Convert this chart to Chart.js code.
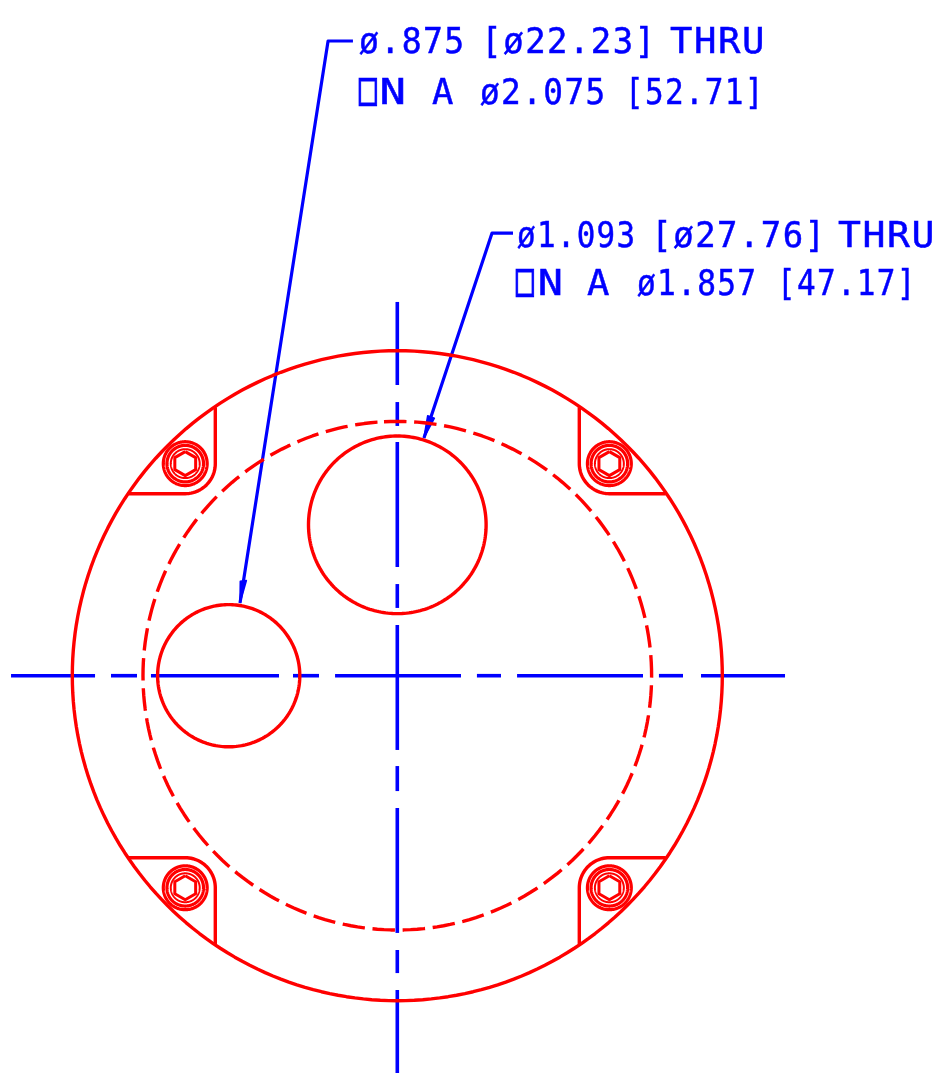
<!DOCTYPE html>
<html>
<head>
<meta charset="utf-8">
<style>
html,body{margin:0;padding:0;background:#fff;}
canvas{display:block;filter:blur(0.55px);}
</style>
<script src="https://cdn.jsdelivr.net/npm/chart.js@4"></script>
</head>
<body>
<canvas id="c" width="940" height="1076"></canvas>
<script>
// Drawing values, in inches from the centre of the part.
const outerDiameter = 4.0;
const boltCircleDiameter = 3.13;
const largeHole = [0, 0.9285, 1.093];      // x, y, diameter
const smallHole = [-1.0375, 0, 0.875];     // x, y, diameter
const boltCentres = [[-1.305, 1.305], [1.305, 1.305], [-1.305, -1.305], [1.305, -1.305]];
const boltRingDiameters = [0.27, 0.225, 0.178];
const hexDiameter = 0.148;
const notchRadius = 0.185;
const notchEnd = [1.12, 1.652];
// Centre-line dashes as start/end pairs
const horizontalDashes = [[-2.377,-1.860],[-1.762,-1.602],[-1.516,-0.728],[-0.642,-0.482],[-0.383,0.392],[0.490,0.638],[0.737,1.512],[1.610,1.758],[1.869,2.386]];
const verticalDashes = [[2.300,1.789],[1.684,1.537],[1.438,0.669],[0.564,0.417],[0.312,-0.457],[-0.556,-0.710],[-0.814,-1.583],[-1.688,-1.830],[-1.934,-2.445]];
// Leaders
const leaderSmall = [[-0.273,3.906],[-0.426,3.906],[-0.968,0.447]];
const arrowSmall = [[-0.968,0.447],[-0.966,0.581],[-0.929,0.585]];
const leaderLarge = [[0.712,2.724],[0.583,2.724],[0.164,1.463]];
const arrowLarge = [[0.164,1.463],[0.187,1.599],[0.228,1.585]];
// Note text
const noteSmallLine1 = ["ø.875", "[ø22.23]", "THRU"];
const noteSmallLine2 = ["□", "N", "A", "ø2.075", "[52.71]"];
const noteLargeLine1 = ["ø1.093", "[ø27.76]", "THRU"];
const noteLargeLine2 = ["□", "N", "A", "ø1.857", "[47.17]"];

const RED = "#ff0000", BLUE = "#0000ff";
const pxPerInch = 162.5, originX = 397.3, originY = 675.7, W = 940, H = 1076;

function traceCircle(cx, cy, d, startDeg) {
  const pts = [], n = 240, s = (startDeg || 0) * Math.PI / 180;
  for (let i = 0; i <= n; i++) {
    const a = s + i / n * 2 * Math.PI;           // clockwise from the top
    pts.push({x: cx + d / 2 * Math.sin(a), y: cy + d / 2 * Math.cos(a)});
  }
  return pts;
}
const toPts = a => a.map(p => ({x: p[0], y: p[1]}));
const ds = [];
function line(data, color, width, extra) {
  ds.push(Object.assign({data, borderColor: color, backgroundColor: color, borderWidth: width,
    showLine: true, pointRadius: 0, tension: 0, fill: false,
    borderDash: [100000, 1], borderJoinStyle: "round"}, extra || {}));
}
// Red outlines
line(traceCircle(0, 0, outerDiameter), RED, 3.4);
line(traceCircle(0, 0, boltCircleDiameter, -3), RED, 3.4, {borderDash: [22.5, 7.67]});
line(traceCircle(largeHole[0], largeHole[1], largeHole[2]), RED, 3.4);
line(traceCircle(smallHole[0], smallHole[1], smallHole[2]), RED, 3.4);
boltCentres.forEach(b => {
  boltRingDiameters.forEach((d, i) => line(traceCircle(b[0], b[1], d), RED, i === 2 ? 2 : 3.2));
  const hex = [];
  for (let i = 0; i <= 6; i++) {
    const a = i * Math.PI / 3;
    hex.push({x: b[0] + hexDiameter / 2 * Math.sin(a), y: b[1] + hexDiameter / 2 * Math.cos(a)});
  }
  line(hex, RED, 3);
  // notch: from the rim along to the quarter arc round the bolt, then back to the rim
  const sx = Math.sign(b[0]), sy = Math.sign(b[1]);
  const notch = [{x: sx * notchEnd[0], y: sy * notchEnd[1]}];
  for (let i = 0; i <= 24; i++) {
    const a = i / 24 * Math.PI / 2;
    notch.push({x: b[0] - sx * notchRadius * Math.cos(a), y: b[1] - sy * notchRadius * Math.sin(a)});
  }
  notch.push({x: sx * notchEnd[1], y: sy * notchEnd[0]});
  line(notch, RED, 3.4);
});
// Blue centre lines
horizontalDashes.forEach(d => line([{x: d[0], y: 0}, {x: d[1], y: 0}], BLUE, 3.6));
verticalDashes.forEach(d => line([{x: 0, y: d[0]}, {x: 0, y: d[1]}], BLUE, 3.6));
// Leaders and arrow heads
line(toPts(leaderSmall), BLUE, 3.2);
line(toPts(leaderLarge), BLUE, 3.2);
line(toPts(arrowSmall.concat([arrowSmall[0]])), BLUE, 1.6, {fill: "shape"});
line(toPts(arrowLarge.concat([arrowLarge[0]])), BLUE, 1.6, {fill: "shape"});

// Layout of the note text in canvas pixels: left, right of each run, and the baseline
const noteLayout = [
  {runs: noteSmallLine1, base: 53,  span: [[359,462],[489,648],[670,762]]},
  {runs: noteSmallLine2, base: 104, span: [[359,377],[382,403],[432,453],[480,603],[632,757]]},
  {runs: noteLargeLine1, base: 247, span: [[517,633],[659,818],[838,932]]},
  {runs: noteLargeLine2, base: 295, span: [[516,534],[540,560],[587,609],[637,754],[784,909]]}
];
const stretchX = 1.12, minGap = 1.5;
const notesPlugin = {
  id: "notes",
  afterDatasetsDraw(chart) {
    const ctx = chart.ctx;
    ctx.save();
    ctx.fillStyle = BLUE;
    ctx.strokeStyle = BLUE;
    ctx.textBaseline = "alphabetic";
    ctx.textAlign = "left";
    noteLayout.forEach(l => l.runs.forEach((t, i) => {
      const [a, b] = l.span[i];
      const box = t === "□";
      ctx.save();
      ctx.font = (box ? "46px" : "35.5px") + ' "DejaVu Sans Mono"';
      ctx.lineWidth = box ? 1.3 : 0.5;
      ctx.letterSpacing = "0px";
      const m = ctx.measureText(t);
      const ink = m.actualBoundingBoxLeft + m.actualBoundingBoxRight;
      let sx = stretchX, sp = 0;
      if (t.length > 1) {
        sx = Math.min(stretchX, (b - a) / (ink + minGap * (t.length - 1)));
        sp = ((b - a) / sx - ink) / (t.length - 1);
      } else {
        sx = (b - a) / ink;
      }
      ctx.translate(a, l.base);
      ctx.scale(sx, 1);
      ctx.letterSpacing = sp.toFixed(2) + "px";
      ctx.fillText(t, m.actualBoundingBoxLeft, 0);
      ctx.strokeText(t, m.actualBoundingBoxLeft, 0);
      ctx.restore();
    }));
    ctx.restore();
  }
};

new Chart(document.getElementById("c"), {
  type: "scatter",
  data: {datasets: ds},
  plugins: [notesPlugin],
  options: {
    responsive: false,
    devicePixelRatio: 1,
    animation: false,
    layout: {padding: 0},
    plugins: {legend: {display: false}, tooltip: {enabled: false}, title: {display: false}},
    scales: {
      x: {type: "linear", display: false, min: -originX / pxPerInch, max: (W - originX) / pxPerInch},
      y: {type: "linear", display: false, min: -(H - originY) / pxPerInch, max: originY / pxPerInch}
    }
  }
});
</script>
</body>
</html>
